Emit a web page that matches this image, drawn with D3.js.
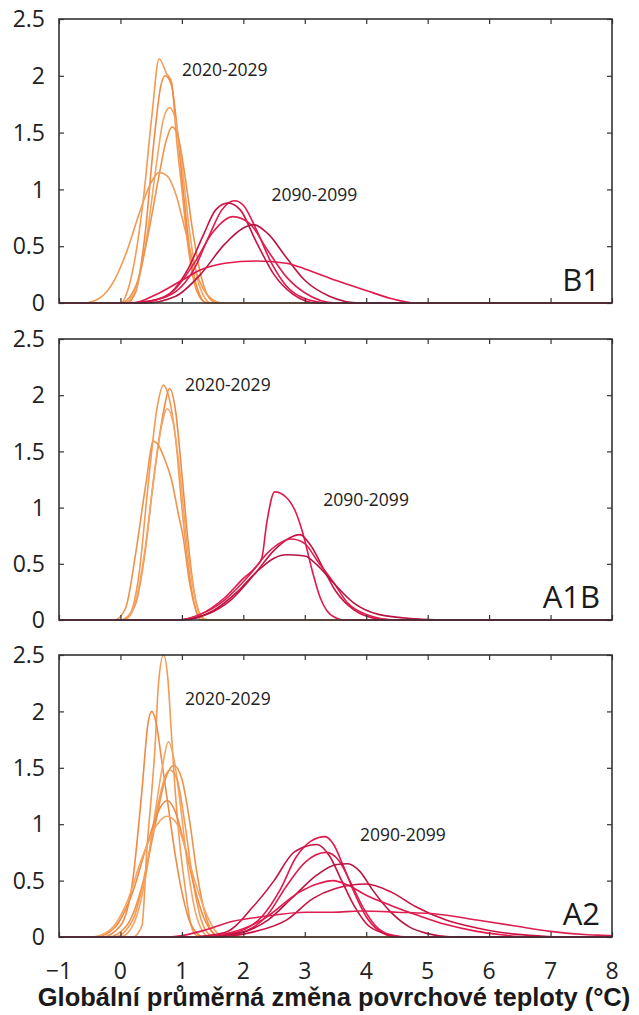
<!DOCTYPE html>
<html>
<head>
<meta charset="utf-8">
<script src="https://cdn.jsdelivr.net/npm/d3@7/dist/d3.min.js"></script>
<style>
  html, body { margin: 0; padding: 0; background: #ffffff; }
  svg { display: block; }
</style>
</head>
<body>
<svg id="chart" width="639" height="1015"></svg>
<script>
// Probability density of global mean surface warming (°C) for three SRES scenarios,
// near-term (2020-2029) and end-of-century (2090-2099) model distributions.

const xTicks = [-1, 0, 1, 2, 3, 4, 5, 6, 7, 8];
const yTicks = [0, 0.5, 1, 1.5, 2, 2.5];
const yTickLabels = ["0", "0.5", "1", "1.5", "2", "2.5"];
const scenarios = ["B1", "A1B", "A2"];
const periods = ["2020-2029", "2090-2099"];
const xTitle = "Globální průměrná změna povrchové teploty (°C)";

// B1 — 2020-2029
const b1Near = [
  [[0.0,0],[0.15,0.17],[0.37,0.9],[0.51,1.64],[0.63,2.15],[0.75,2.02],[0.83,1.95],[0.92,1.4],[0.99,1.05],[1.1,0.5],[1.2,0.18],[1.32,0.03],[1.42,0]],
  [[0.1,0],[0.25,0.1],[0.4,0.6],[0.55,1.45],[0.66,1.92],[0.73,2.0],[0.83,1.92],[0.92,1.55],[1.02,1.0],[1.12,0.5],[1.25,0.13],[1.4,0]],
  [[0.05,0],[0.25,0.12],[0.42,0.55],[0.58,1.2],[0.7,1.62],[0.8,1.72],[0.9,1.6],[1.0,1.22],[1.12,0.65],[1.25,0.22],[1.38,0.04],[1.48,0]],
  [[0.0,0],[0.25,0.15],[0.45,0.6],[0.62,1.1],[0.74,1.42],[0.84,1.55],[0.94,1.46],[1.05,1.12],[1.18,0.62],[1.32,0.22],[1.45,0.04],[1.58,0]],
  [[-0.6,0],[-0.35,0.04],[-0.1,0.2],[0.1,0.45],[0.3,0.78],[0.48,1.04],[0.63,1.15],[0.76,1.12],[0.9,0.96],[1.05,0.65],[1.2,0.33],[1.35,0.12],[1.5,0.03],[1.65,0]]
];

// B1 — 2090-2099
const b1Far = [
  [[0.0,0],[0.5,0.02],[0.9,0.1],[1.2,0.3],[1.45,0.6],[1.65,0.82],[1.86,0.9],[2.0,0.86],[2.2,0.66],[2.45,0.36],[2.7,0.15],[3.0,0.04],[3.4,0]],
  [[0.2,0],[0.7,0.05],[1.1,0.3],[1.35,0.6],[1.55,0.82],[1.75,0.88],[1.95,0.82],[2.2,0.55],[2.5,0.25],[2.8,0.08],[3.2,0]],
  [[0.3,0],[0.8,0.08],[1.2,0.35],[1.5,0.62],[1.83,0.76],[2.1,0.7],[2.4,0.46],[2.7,0.23],[3.0,0.09],[3.5,0]],
  [[0.4,0],[0.9,0.06],[1.3,0.25],[1.7,0.52],[2.0,0.66],[2.16,0.69],[2.4,0.61],[2.7,0.4],[3.0,0.2],[3.4,0.06],[3.9,0]],
  [[0.2,0],[0.6,0.08],[1.0,0.2],[1.3,0.29],[1.7,0.35],[2.2,0.37],[2.7,0.35],[3.0,0.3],[3.5,0.2],[4.0,0.11],[4.4,0.04],[4.8,0]]
];

// A1B — 2020-2029
const a1bNear = [
  [[0.0,0],[0.15,0.05],[0.3,0.4],[0.45,1.2],[0.6,1.9],[0.7,2.09],[0.78,2.0],[0.9,1.6],[1.0,1.0],[1.1,0.5],[1.2,0.15],[1.32,0]],
  [[0.05,0],[0.25,0.15],[0.4,0.6],[0.55,1.3],[0.7,1.85],[0.8,2.06],[0.9,1.85],[1.0,1.3],[1.1,0.7],[1.2,0.25],[1.32,0.02],[1.4,0]],
  [[0.05,0],[0.22,0.12],[0.38,0.55],[0.53,1.2],[0.66,1.7],[0.76,1.88],[0.86,1.75],[0.97,1.3],[1.08,0.7],[1.2,0.24],[1.32,0.03],[1.42,0]],
  [[-0.1,0],[0.08,0.1],[0.25,0.6],[0.37,1.05],[0.43,1.27],[0.53,1.59],[0.6,1.57],[0.72,1.43],[0.83,1.25],[0.94,0.95],[1.02,0.74],[1.12,0.35],[1.22,0.1],[1.3,0]]
];

// A1B — 2090-2099
const a1bFar = [
  [[0.9,0],[1.3,0.05],[1.7,0.2],[2.0,0.37],[2.2,0.47],[2.3,0.55],[2.38,0.86],[2.51,1.14],[2.7,1.09],[2.86,0.95],[2.97,0.77],[3.13,0.42],[3.25,0.2],[3.35,0.09],[3.5,0.02],[3.65,0]],
  [[0.9,0],[1.4,0.05],[1.8,0.18],[2.2,0.42],[2.5,0.62],[2.75,0.73],[2.92,0.76],[3.1,0.66],[3.3,0.46],[3.5,0.26],[3.8,0.09],[4.2,0.01],[4.5,0]],
  [[0.9,0],[1.3,0.05],[1.7,0.18],[2.1,0.4],[2.4,0.6],[2.78,0.72],[3.0,0.68],[3.2,0.53],[3.46,0.34],[3.7,0.15],[4.0,0.05],[4.5,0]],
  [[1.0,0],[1.5,0.08],[1.9,0.25],[2.2,0.42],[2.5,0.55],[2.7,0.58],[3.0,0.57],[3.2,0.49],[3.45,0.34],[3.8,0.15],[4.2,0.05],[4.8,0.01],[5.2,0]]
];

// A2 — 2020-2029
const a2Near = [
  [[0.2,0],[0.35,0.1],[0.43,0.77],[0.56,1.66],[0.62,2.25],[0.7,2.5],[0.77,2.3],[0.83,1.8],[0.89,1.3],[0.97,0.8],[1.05,0.45],[1.13,0.15],[1.22,0.02],[1.3,0]],
  [[-0.3,0],[0.0,0.1],[0.2,0.5],[0.35,1.3],[0.45,1.9],[0.51,2.0],[0.58,1.9],[0.67,1.57],[0.78,1.15],[0.9,0.7],[1.0,0.4],[1.1,0.18],[1.25,0.03],[1.35,0]],
  [[0.0,0],[0.2,0.1],[0.4,0.5],[0.55,1.05],[0.68,1.5],[0.78,1.73],[0.88,1.55],[0.98,1.15],[1.1,0.6],[1.22,0.22],[1.35,0.04],[1.45,0]],
  [[-0.2,0],[0.1,0.1],[0.35,0.45],[0.55,0.95],[0.72,1.38],[0.87,1.52],[1.0,1.4],[1.12,1.05],[1.25,0.55],[1.38,0.2],[1.5,0.04],[1.6,0]],
  [[-0.1,0],[0.2,0.15],[0.4,0.55],[0.6,1.15],[0.8,1.48],[0.92,1.4],[1.05,1.0],[1.18,0.5],[1.3,0.18],[1.45,0.02],[1.55,0]],
  [[-0.4,0],[-0.1,0.08],[0.2,0.4],[0.45,0.85],[0.65,1.15],[0.76,1.21],[0.9,1.1],[1.05,0.8],[1.2,0.45],[1.35,0.18],[1.5,0.04],[1.65,0]],
  [[-0.5,0],[-0.2,0.05],[0.1,0.3],[0.35,0.7],[0.6,1.0],[0.75,1.07],[0.9,1.02],[1.05,0.8],[1.22,0.48],[1.4,0.2],[1.55,0.05],[1.7,0]]
];

// A2 — 2090-2099
const a2Far = [
  [[1.2,0],[1.8,0.03],[2.3,0.18],[2.6,0.42],[2.85,0.7],[3.1,0.85],[3.33,0.89],[3.47,0.82],[3.62,0.64],[3.8,0.4],[4.0,0.18],[4.2,0.06],[4.5,0]],
  [[1.1,0],[1.7,0.04],[2.16,0.27],[2.5,0.5],[2.8,0.74],[3.0,0.8],[3.2,0.82],[3.4,0.72],[3.6,0.5],[3.8,0.28],[4.0,0.12],[4.3,0.03],[4.6,0]],
  [[1.3,0],[1.9,0.03],[2.4,0.2],[2.7,0.45],[3.0,0.66],[3.35,0.75],[3.55,0.68],[3.75,0.48],[3.95,0.26],[4.15,0.1],[4.4,0.02],[4.7,0]],
  [[1.3,0],[1.9,0.03],[2.4,0.15],[2.8,0.35],[3.2,0.55],[3.5,0.64],[3.7,0.65],[3.9,0.58],[4.1,0.42],[4.4,0.22],[4.7,0.09],[5.0,0.03],[5.4,0]],
  [[1.2,0],[1.8,0.04],[2.3,0.15],[2.92,0.4],[3.2,0.47],[3.46,0.5],[3.7,0.46],[4.0,0.37],[4.4,0.28],[4.8,0.2],[5.3,0.11],[5.8,0.05],[6.2,0.02],[6.6,0]],
  [[1.5,0],[2.2,0.05],[2.7,0.15],[3.13,0.34],[3.5,0.43],[4.0,0.47],[4.4,0.4],[4.8,0.27],[5.3,0.15],[5.8,0.08],[6.2,0.04],[6.8,0.01],[7.2,0]],
  [[0.8,0],[1.3,0.05],[1.83,0.14],[2.3,0.18],[3.03,0.22],[3.46,0.22],[3.9,0.23],[4.5,0.22],[5.2,0.2],[5.8,0.15],[6.4,0.1],[7.0,0.05],[7.6,0.02],[8.0,0.01]]
];

const nearSets = [b1Near, a1bNear, a2Near];
const farSets = [b1Far, a1bFar, a2Far];

// ---- layout ----
const svg = d3.select("#chart");
const plotLeft = 59, plotRight = 612;
const panelBoxes = [
  { top: 19, bottom: 303 },
  { top: 339, bottom: 620 },
  { top: 655, bottom: 937 }
];
const labelFont = "'Open Sans', 'Noto Sans', sans-serif";
const frameColor = "#333333";
const nearColors = ["#f39a55", "#f08a45", "#f5a563", "#ee934c"];
const farColors = ["#e3174b", "#c91242", "#dc1f50", "#b81440"];

const x = d3.scaleLinear().domain([-1, 8]).range([plotLeft, plotRight]);

// Near-term / end-of-century label anchors (data units) per panel
const nearLabelAt = [[1.0, 2.0], [1.05, 2.04], [1.05, 2.06]];
const farLabelAt = [[2.46, 0.9], [3.3, 1.01], [3.9, 0.85]];

panelBoxes.forEach((box, i) => {
  const y = d3.scaleLinear().domain([0, 2.5]).range([box.bottom, box.top]);
  const g = svg.append("g");

  const clipId = "clip" + i;
  svg.append("clipPath").attr("id", clipId)
    .append("rect")
    .attr("x", plotLeft).attr("y", box.top - 1)
    .attr("width", plotRight - plotLeft).attr("height", box.bottom - box.top + 2);

  const line = d3.line()
    .x(d => x(d[0]))
    .y(d => y(d[1]))
    .curve(d3.curveMonotoneX);

  // each density is zero outside its support: extend to the axis limits
  const padded = c => [[-1, 0], ...c, [8, 0]];

  const curves = g.append("g").attr("clip-path", `url(#${clipId})`);
  curves.selectAll("path.near")
    .data(nearSets[i])
    .join("path")
    .attr("class", "near")
    .attr("d", c => line(padded(c)))
    .attr("fill", "none")
    .attr("stroke", (c, k) => nearColors[k % nearColors.length])
    .attr("stroke-width", 1.6)
    .attr("stroke-linejoin", "round");

  curves.selectAll("path.far")
    .data(farSets[i])
    .join("path")
    .attr("class", "far")
    .attr("d", c => line(padded(c)))
    .attr("fill", "none")
    .attr("stroke", (c, k) => farColors[k % farColors.length])
    .attr("stroke-width", 1.6)
    .attr("stroke-linejoin", "round");

  // inward ticks on all four sides
  const tickLen = 5;
  const axBottom = d3.axisTop(x).tickValues(xTicks).tickSize(tickLen).tickFormat("");
  const axTop = d3.axisBottom(x).tickValues(xTicks).tickSize(tickLen).tickFormat("");
  const axLeft = d3.axisRight(y).tickValues(yTicks).tickSize(tickLen).tickFormat("");
  const axRight = d3.axisLeft(y).tickValues(yTicks).tickSize(tickLen).tickFormat("");

  [[axBottom, `translate(0,${box.bottom})`],
   [axTop, `translate(0,${box.top})`],
   [axLeft, `translate(${plotLeft},0)`],
   [axRight, `translate(${plotRight},0)`]].forEach(([ax, tr]) => {
    const a = g.append("g").attr("transform", tr).call(ax);
    a.select(".domain").remove();
    a.selectAll("line").attr("stroke", frameColor).attr("stroke-width", 1.2);
  });

  g.append("rect")
    .attr("x", plotLeft).attr("y", box.top)
    .attr("width", plotRight - plotLeft).attr("height", box.bottom - box.top)
    .attr("fill", "none").attr("stroke", frameColor).attr("stroke-width", 1.6);

  // y tick labels
  g.selectAll("text.ytl")
    .data(yTicks)
    .join("text")
    .attr("class", "ytl")
    .attr("x", 45)
    .attr("y", d => y(d))
    .attr("dy", "0.36em")
    .attr("text-anchor", "end")
    .attr("font-family", labelFont)
    .attr("font-size", 23)
    .attr("fill", "#222")
    .text((d, k) => yTickLabels[k]);

  // period labels
  g.append("text")
    .attr("x", x(nearLabelAt[i][0])).attr("y", y(nearLabelAt[i][1]))
    .attr("font-family", labelFont).attr("font-size", 17.5)
    .attr("fill", "#222").text(periods[0]);
  g.append("text")
    .attr("x", x(farLabelAt[i][0])).attr("y", y(farLabelAt[i][1]))
    .attr("font-family", labelFont).attr("font-size", 17.5)
    .attr("fill", "#222").text(periods[1]);

  // scenario name
  g.append("text")
    .attr("x", plotRight - 12).attr("y", box.bottom - 12)
    .attr("text-anchor", "end")
    .attr("font-family", labelFont).attr("font-size", 31)
    .attr("fill", "#1a1a1a").text(scenarios[i]);
});

// x tick labels under the bottom panel
const last = panelBoxes[panelBoxes.length - 1];
svg.selectAll("text.xtl")
  .data(xTicks)
  .join("text")
  .attr("class", "xtl")
  .attr("x", d => x(d))
  .attr("y", last.bottom + 42)
  .attr("text-anchor", "middle")
  .attr("font-family", labelFont)
  .attr("font-size", 23)
  .attr("fill", "#222")
  .text(d => d < 0 ? "\u2212" + Math.abs(d) : String(d));

svg.append("text")
  .attr("x", 334)
  .attr("y", 1006)
  .attr("text-anchor", "middle")
  .attr("font-family", "'Liberation Sans', Arial, sans-serif")
  .attr("font-weight", "bold")
  .attr("font-size", 25.5)
  .attr("fill", "#1a1a1a")
  .text(xTitle);
</script>
</body>
</html>
